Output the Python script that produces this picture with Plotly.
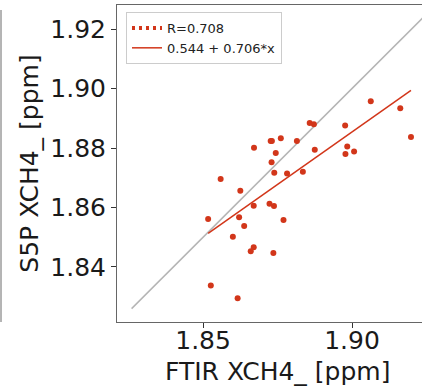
import plotly.graph_objects as go

ftir = [1.8517, 1.8526, 1.8559, 1.8600, 1.8616, 1.8621, 1.8625, 1.8638, 1.8660, 1.8670,
        1.8670, 1.8671, 1.8723, 1.8727, 1.8731, 1.8730, 1.8736, 1.8738, 1.8739, 1.8744,
        1.8761, 1.8770, 1.8782, 1.8815, 1.8835, 1.8858, 1.8872, 1.8875, 1.8977, 1.8978,
        1.8984, 1.9007, 1.9063, 1.9162, 1.9198]
s5p = [1.8561, 1.8338, 1.8696, 1.8502, 1.8295, 1.8567, 1.8656, 1.8538, 1.8453, 1.8466,
       1.8606, 1.8801, 1.8613, 1.8824, 1.8824, 1.8752, 1.8447, 1.8605, 1.8717, 1.8783,
       1.8833, 1.8558, 1.8714, 1.8824, 1.8720, 1.8884, 1.8880, 1.8794, 1.8876, 1.8780,
       1.8805, 1.8788, 1.8957, 1.8934, 1.8837]

fit_intercept = 0.544
fit_slope = 0.706
r_label = "R=0.708"
fit_label = "0.544 + 0.706*x"
one_to_one = [1.826, 1.935]

x_ticks = [1.85, 1.90]
x_tick_text = ["1.85", "1.90"]
y_ticks = [1.84, 1.86, 1.88, 1.90, 1.92]
y_tick_text = ["1.84", "1.86", "1.88", "1.90", "1.92"]

RED = "#d2361a"
FONT = "DejaVu Sans"

fit_x = [min(ftir), max(ftir)]
fit_y = [fit_intercept + fit_slope * v for v in fit_x]

fig = go.Figure()
fig.add_trace(go.Scatter(x=one_to_one, y=one_to_one, mode="lines",
                         line=dict(color="#b5b5b5", width=1.5), showlegend=False,
                         hoverinfo="skip"))
fig.add_trace(go.Scatter(x=ftir, y=s5p, mode="markers",
                         marker=dict(color=RED, size=6), showlegend=False))
fig.add_trace(go.Scatter(x=[None], y=[None], mode="lines", name=r_label,
                         line=dict(color=RED, width=4, dash="3px,4px")))
fig.add_trace(go.Scatter(x=fit_x, y=fit_y, mode="lines", name=fit_label,
                         line=dict(color=RED, width=1.5)))

fig.add_annotation(text="FTIR XCH4_ [ppm]", xref="paper", yref="paper",
                   x=(277 - 117) / 305, y=-50 / 317, xanchor="center", yanchor="middle",
                   showarrow=False, font=dict(family=FONT, size=25, color="#1a1a1a"))
fig.add_shape(type="line", xref="paper", yref="paper",
              x0=-116 / 305, x1=-116 / 305, y0=0, y1=312 / 317,
              line=dict(color="#6a6a6a", width=1))

fig.update_layout(
    width=422, height=386,
    margin=dict(l=117, r=0, t=5, b=64),
    paper_bgcolor="white", plot_bgcolor="white",
    font=dict(family=FONT, color="#1a1a1a"),
    legend=dict(x=0.0295, y=0.978, xanchor="left", yanchor="top",
                bgcolor="rgba(255,255,255,0.9)", bordercolor="#cccccc", borderwidth=1,
                font=dict(family=FONT, size=13, color="#222222"),
                tracegroupgap=0, itemwidth=30),
    xaxis=dict(range=[1.8211, 1.9235], tickvals=x_ticks, ticktext=x_tick_text,
               showgrid=False, zeroline=False, showline=True, mirror=True,
               linecolor="#666666", linewidth=1, ticks="outside", ticklen=5,
               tickcolor="#333333", ticklabelstandoff=-9,
               tickfont=dict(family=FONT, size=25, color="#1a1a1a")),
    yaxis=dict(range=[1.8215, 1.9281], tickvals=y_ticks, ticktext=y_tick_text,
               showgrid=False, zeroline=False, showline=True, mirror=False,
               linecolor="#666666", linewidth=1, ticks="outside", ticklen=5,
               tickcolor="#333333", tickfont=dict(family=FONT, size=25, color="#1a1a1a"),
               title=dict(text="S5P XCH4_ [ppm]", standoff=4,
                          font=dict(family=FONT, size=25, color="#1a1a1a"))),
)

fig.write_html("out.html", config={"displayModeBar": False},
               post_script="document.body.style.margin='0';document.body.style.overflow='hidden';")
